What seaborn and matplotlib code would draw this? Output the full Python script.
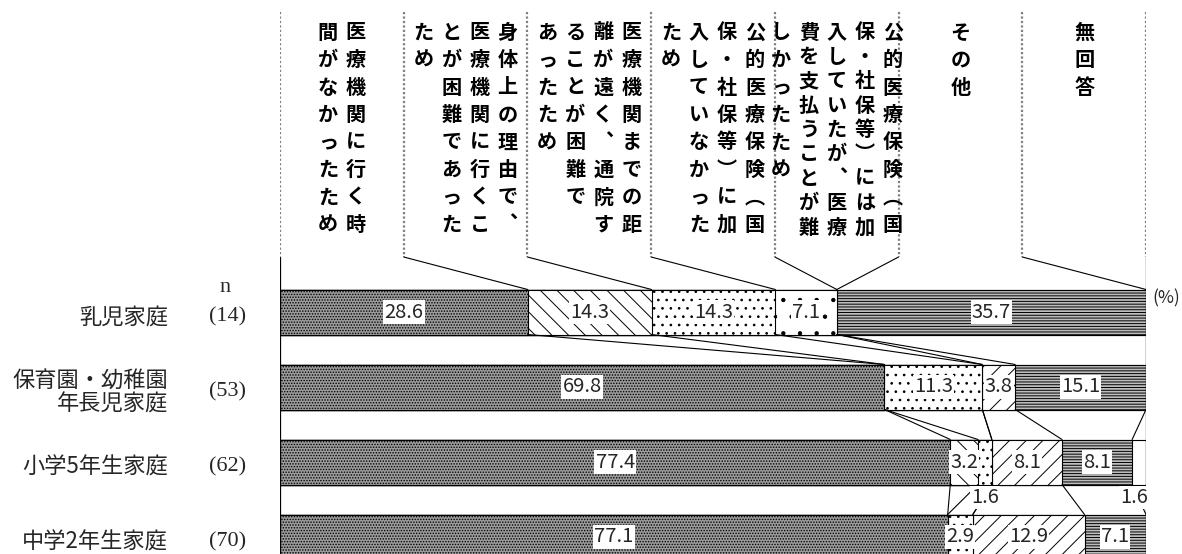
import numpy as np
import pandas as pd
import matplotlib.pyplot as plt
import seaborn as sns

## ---------------- datos ----------------
rows = ['乳児家庭', '保育園・幼稚園\n年長児家庭', '小学5年生家庭', '中学2年生家庭']
n_labels = ['(14)', '(53)', '(62)', '(70)']

categories = [
    '医療機関に行く時間がなかったため',
    '身体上の理由で、医療機関に行くことが困難であったため',
    '医療機関までの距離が遠く、通院することが困難であったため',
    '公的医療保険（国保・社保等）に加入していなかったため',
    '公的医療保険（国保・社保等）には加入していたが、医療費を支払うことが難しかったため',
    'その他',
    '無回答',
]
# columnas del texto vertical (derecha -> izquierda)
header_cols = [
    ['医療機関に行く時', '間がなかったため'],
    ['身体上の理由で、', '医療機関に行くこ', 'とが困難であった', 'ため'],
    ['医療機関までの距', '離が遠く、通院す', 'ることが困難で', 'あったため'],
    ['公的医療保険（国', '保・社保等）に加', '入していなかった', 'ため'],
    ['公的医療保険（国', '保・社保等）には加', '入していたが、医療', '費を支払うことが難', 'しかったため'],
    ['その他'],
    ['無回答'],
]

no_time = [28.6, 69.8, 77.4, 77.1]
body = [14.3, 0.0, 3.2, 0.0]
distance = [14.3, 11.3, 1.6, 2.9]
uninsured = [7.1, 0.0, 0.0, 0.0]
cost = [0.0, 3.8, 8.1, 12.9]
other = [35.7, 15.1, 8.1, 7.1]
no_answer = [0.0, 0.0, 1.6, 0.0]

series = [no_time, body, distance, uninsured, cost, other, no_answer]

# estilo de cada categoria: (relleno, trama)
styles = [
    ('#9c9c9c', '......'),
    ('white', '\\\\'),
    ('white', '..'),
    ('white', '.'),
    ('white', '//'),
    ('#bdbdbd', '------'),
    ('white', ''),
]

## ---------------- figura ----------------
sns.set_theme(style='white')
plt.rcParams['font.family'] = ['Noto Sans CJK JP', 'DejaVu Sans']
plt.rcParams['hatch.linewidth'] = 0.7

W, H = 1182, 554
X0, X1 = 280, 1146
fig = plt.figure(figsize=(W / 100, H / 100), dpi=100)
ax = fig.add_axes([X0 / W, 0, (X1 - X0) / W, 1])


def px_x(p):
    return (p - X0) / (X1 - X0) * 100


def px_y(p):
    return (p - 312) / 75


vals = np.array(series)           # (categorias, filas)
cum = np.cumsum(vals, axis=0)     # acumulado por categoria
bar_w = 0.6

# barras apiladas: se dibuja el acumulado de atras hacia adelante
for k in range(len(series) - 1, -1, -1):
    face, hatch = styles[k]
    sns.barplot(x=cum[k], y=rows, orient='h', color=face, saturation=1,
                hatch=hatch, edgecolor='black', linewidth=0.8, width=bar_w,
                errorbar=None, ax=ax)

ax.set_xlim(0, 100)
ax.set_ylim(px_y(H), px_y(0))
ax.set_axis_off()

# lineas entre barras
for i in range(len(rows) - 1):
    for k in range(len(series) - 1):
        ax.plot([cum[k][i], cum[k][i + 1]], [i + bar_w / 2, i + 1 - bar_w / 2],
                color='black', lw=0.8, zorder=3)

# etiquetas de valores
lab_box = dict(facecolor='white', edgecolor='none', pad=0.8)
for i in range(len(rows)):
    start = 0.0
    for k in range(len(series)):
        v = vals[k][i]
        if v > 0:
            mid = start + v / 2
            if v < 2:
                ax.text(min(mid, 98.6), i + bar_w / 2 + 0.17, f'{v:.1f}', ha='center', va='center',
                        fontsize=14.5, zorder=5, bbox=lab_box)
            else:
                ax.text(mid, i, f'{v:.1f}', ha='center', va='center', fontsize=14.5, zorder=5,
                        bbox=lab_box)
        start += v

# cabecera con texto vertical
vert = {'（': '︵', '）': '︶', '、': '︑'}
box_w = 100 / len(categories)
top_px, bottom_px = 12, 257
col_pitch = px_x(X0 + 28)
for k, cols in enumerate(header_cols):
    c = (k + 0.5) * box_w
    m = len(cols)
    for j, col in enumerate(cols):
        x = c + (m - 1) / 2 * col_pitch - j * col_pitch
        pitch = min(27.5, 195 / max(len(col) - 1, 1)) if len(col) > 3 else 27.5
        for t, ch in enumerate(col):
            ax.text(x, px_y(32 + t * pitch), vert.get(ch, ch), ha='center', va='center',
                    fontsize=14.5, fontweight='bold', color='black')

for k in range(len(categories) + 1):
    bx = k * box_w
    ax.plot([bx, bx], [px_y(top_px), px_y(bottom_px)], color='#808080', lw=1.6,
            ls=(0, (1, 1)), zorder=2)
    if k == 0 or k == len(categories):
        ax.plot([bx, bx], [px_y(bottom_px), px_y(H)], color='black', lw=0.9, zorder=4)
    else:
        ax.plot([bx, cum[k - 1][0]], [px_y(bottom_px), -bar_w / 2], color='black', lw=0.8)

# etiquetas de filas
for i, lab in enumerate(rows):
    ax.text(px_x(168), i + 0.07, lab, ha='right', va='center', fontsize=16, linespacing=1.05)
    ax.text(px_x(228), i + 0.07, n_labels[i], ha='center', va='center', fontsize=16,
            family='Liberation Serif')
ax.text(px_x(225), px_y(287), 'n', ha='center', va='center', fontsize=16, family='Liberation Serif')
ax.text(px_x(1152), px_y(298), '(%)', ha='left', va='center', fontsize=12.5)

fig.savefig('out.png', dpi=100)
